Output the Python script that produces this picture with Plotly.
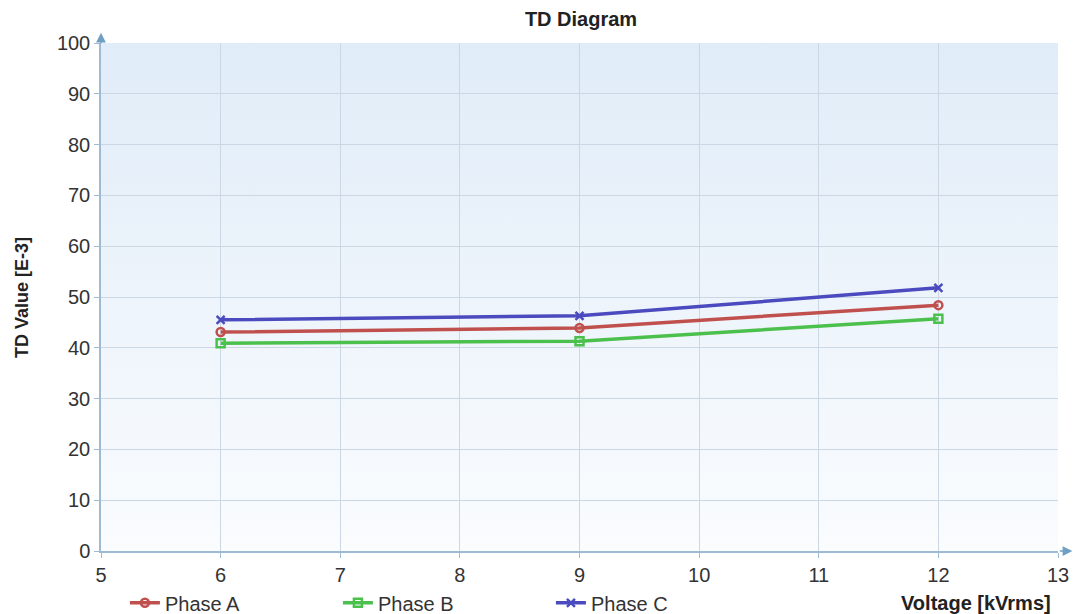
import base64
import plotly.graph_objects as go

voltage = [6, 9, 12]
phase_a = [43.1, 43.9, 48.4]
phase_b = [40.9, 41.3, 45.7]
phase_c = [45.5, 46.3, 51.8]
x_ticks = [5, 6, 7, 8, 9, 10, 11, 12, 13]
y_ticks = [0, 10, 20, 30, 40, 50, 60, 70, 80, 90, 100]

fig = go.Figure()

series = [
    ("Phase A", phase_a, "#c0504d", "circle-open"),
    ("Phase B", phase_b, "#4cc04c", "square-open"),
    ("Phase C", phase_c, "#4b4bbf", "x-thin-open"),
]
for name, vals, col, sym in series:
    fig.add_trace(go.Scatter(
        x=voltage, y=vals, name=name, mode="lines+markers",
        line=dict(color=col, width=3.5),
        marker=dict(symbol=sym, size=8, color=col, line=dict(color=col, width=2.5)),
    ))

# gradient background image (below gridlines)
svg = ('<svg xmlns="http://www.w3.org/2000/svg" width="100" height="100" preserveAspectRatio="none">'
       '<defs><linearGradient id="g" x1="0" y1="0" x2="0" y2="1">'
       '<stop offset="0" stop-color="#e0ecf8"/><stop offset="1" stop-color="#fafcfe"/>'
       '</linearGradient></defs><rect width="100" height="100" fill="url(#g)"/></svg>')
src = "data:image/svg+xml;base64," + base64.b64encode(svg.encode()).decode()
fig.add_layout_image(dict(source=src, xref="x", yref="y", x=x_ticks[0], y=y_ticks[-1],
                          sizex=x_ticks[-1] - x_ticks[0], sizey=y_ticks[-1] - y_ticks[0],
                          sizing="stretch", layer="below", xanchor="left", yanchor="top"))

fig.update_layout(
    width=1076, height=614,
    margin=dict(l=101, r=18, t=43, b=63, autoexpand=False),
    paper_bgcolor="white", plot_bgcolor="rgba(0,0,0,0)",
    font=dict(family="Liberation Sans, Arial, sans-serif", color="#333333"),
    title=dict(text="<b>TD Diagram</b>", x=0.54, xanchor="center", y=0.969, yanchor="middle",
               font=dict(size=20, color="#222222")),
    showlegend=True,
    legend=dict(orientation="h", x=0.025, xanchor="left", y=-0.102, yanchor="middle",
                font=dict(size=20, color="#333333"), entrywidth=168,
                bgcolor="rgba(0,0,0,0)", tracegroupgap=0),
    xaxis=dict(range=[5, 13], tickvals=x_ticks, showgrid=True, gridcolor="#cbd8e4", gridwidth=1,
               zeroline=False, showline=True, linecolor="#9dbbd4", linewidth=1.5,
               ticks="outside", tickcolor="#9dbbd4", ticklen=5,
               tickfont=dict(size=20, color="#333333")),
    yaxis=dict(range=[0, 100], tickvals=y_ticks, showgrid=True, gridcolor="#cbd8e4", gridwidth=1,
               zeroline=False, showline=True, linecolor="#9dbbd4", linewidth=1.5,
               ticks="outside", tickcolor="#9dbbd4", ticklen=5,
               tickfont=dict(size=20, color="#333333")),
)

# axis titles
fig.add_annotation(text="<b>TD Value [E-3]</b>", x=-0.0826, y=0.5, xref="paper", yref="paper",
                   xanchor="center", yanchor="middle", textangle=-90, showarrow=False,
                   font=dict(size=18, color="#222222"))
fig.add_annotation(text="<b>Voltage [kVrms]</b>", x=0.995, y=-0.102, xref="paper", yref="paper",
                   xanchor="right", yanchor="middle", showarrow=False,
                   font=dict(size=20, color="#222222"))

# axis arrows
fig.add_annotation(x=0, y=1.02, xref="paper", yref="paper", ax=0, ay=12, axref="pixel", ayref="pixel",
                   showarrow=True, arrowhead=2, arrowsize=1.3, arrowwidth=1.5, arrowcolor="#6f9fc2", text="")
fig.add_annotation(x=1.015, y=0, xref="paper", yref="paper", ax=-14, ay=0, axref="pixel", ayref="pixel",
                   showarrow=True, arrowhead=2, arrowsize=1.3, arrowwidth=1.5, arrowcolor="#6f9fc2", text="")

fig.write_html("out.html", config={"displayModeBar": False},
               post_script="document.body.style.margin='0';document.body.style.overflow='hidden';")
